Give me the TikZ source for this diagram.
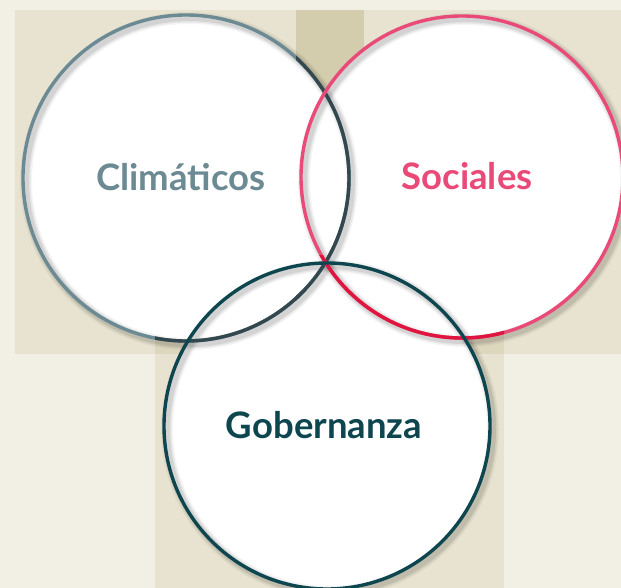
\documentclass[tikz,border=0pt]{standalone}
\usepackage{fontspec}
\setmainfont{Lato}
\usetikzlibrary{calc}
\definecolor{bgc}{HTML}{F2F0E5}
\definecolor{band}{HTML}{E8E3D0}
\definecolor{bandd}{HTML}{DDD7BE}
\definecolor{colc}{HTML}{D3CDAD}
\definecolor{climc}{HTML}{6B8A94}
\definecolor{climd}{HTML}{33474F}
\definecolor{socc}{HTML}{E94A78}
\definecolor{socd}{HTML}{E0153F}
\definecolor{gobc}{HTML}{0E4650}
\begin{document}
\begin{tikzpicture}[x=1pt,y=-1pt,
  disc/.style={circle, minimum size=326pt, inner sep=0pt, fill=white},
  ring/.style={line width=3.4pt},
  lbl/.style={font=\fontsize{36.5}{40}\selectfont\bfseries}]
\fill[bgc] (0,0) rectangle (621,588);
\useasboundingbox (0,0) rectangle (621,588);
\fill[band] (15,10) rectangle (621,354);
\fill[band] (155,300) rectangle (504,588);
\fill[bandd] (155,300) rectangle (504,354);
\fill[colc] (296,10) rectangle (364,354);
% discs
\node[disc] (n1) at (186,178) {};
\node[disc, minimum size=322pt] (n2) at (462,177) {};
\node[disc] (n3) at (327,426) {};
% ring shadows
\foreach \n/\r in {n1/163,n2/161,n3/163}{
  \foreach \w/\o in {12/0.04, 9/0.06, 6/0.08}{
    \draw[black, opacity=\o, line width=\w pt] ($(\n.center)+(3,3)$) circle[radius=\r];
  }
}
% rings
\draw[ring, climc] (n1.center) circle[radius=163];
\begin{scope}
  \clip (296,0) rectangle (400,330);
  \draw[ring, climd] (n1.center) circle[radius=163];
\end{scope}
\begin{scope}
  \clip (155,290) rectangle (400,400);
  \draw[ring, climd] (n1.center) circle[radius=163];
\end{scope}
\draw[ring, socc] (n2.center) circle[radius=161];
\begin{scope}
  \clip (300,255) rectangle (504,400);
  \draw[ring, socd] (n2.center) circle[radius=161];
\end{scope}
\draw[ring, gobc] (n3.center) circle[radius=163];
% labels
\node[lbl, text=climc] (t1) at (181,177) {Climáticos};
\node[lbl, text=socc] (t2) at (467,176) {Sociales};
\node[lbl, text=gobc] (t3) at (324,425) {Gobernanza};
\end{tikzpicture}
\end{document}
